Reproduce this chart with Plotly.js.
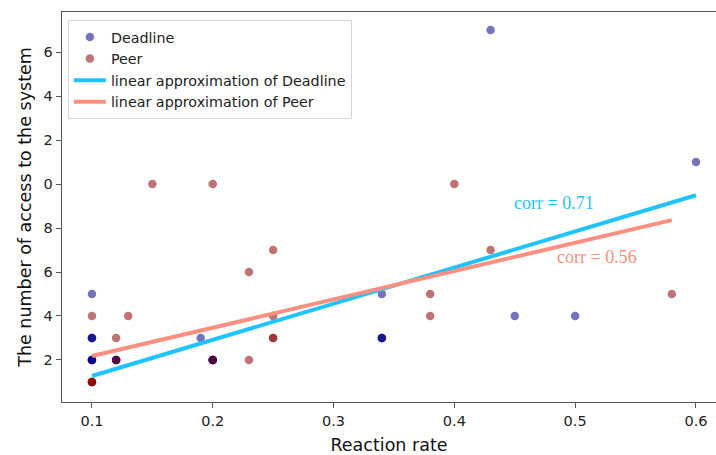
<!DOCTYPE html>
<html>
<head>
<meta charset="utf-8">
<script src="https://cdn.plot.ly/plotly-3.0.1.min.js"></script>
<style>html,body{margin:0;padding:0;background:#fff;}#chart{width:716px;height:455px;}</style>
</head>
<body>
<div id="chart"></div>
<script>
// Deadline group (duplicates reflect overlapping, darker points)
const deadlineX = [0.1, 0.1,0.1,0.1, 0.1,0.1,0.1,0.1, 0.12,0.12,0.12, 0.19, 0.2,0.2,0.2,0.2, 0.34, 0.34,0.34,0.34, 0.43, 0.45, 0.5, 0.6];
const deadlineY = [5, 3,3,3, 2,2,2,2, 2,2,2, 3, 2,2,2,2, 5, 3,3,3, 17, 4, 4, 11];
// Peer group
const peerX = [0.1, 0.1,0.1,0.1,0.1, 0.12, 0.12, 0.13, 0.15, 0.2, 0.2, 0.23, 0.23, 0.25, 0.25, 0.25,0.25, 0.38, 0.38, 0.4, 0.43, 0.58];
const peerY = [4, 1,1,1,1, 3, 2, 4, 10, 10, 2, 6, 2, 7, 4, 3,3, 5, 4, 10, 7, 5];
// Linear approximations (end points)
const fitDeadlineX = [0.1, 0.6];
const fitDeadlineY = [1.27, 9.49];
const fitPeerX = [0.1, 0.58];
const fitPeerY = [2.18, 8.36];
const corrLabels = ['corr = 0.71', 'corr = 0.56'];
const corrX = [0.4474, 0.4833];
const corrY = [9.14, 6.68];
const yTickVals = [2, 4, 6, 8, 10, 12, 14, 16];
const yTickText = ['2', '4', '6', '8', '0', '2', '4', '6'];
const xTickVals = [0.1, 0.2, 0.3, 0.4, 0.5, 0.6];
const xTickText = ['0.1', '0.2', '0.3', '0.4', '0.5', '0.6'];

const blue = '#00008b', red = '#8b0000';
const lineBlue = '#1fc3ff', lineRed = '#fb8f80';

const traces = [
  {x: deadlineX, y: deadlineY, mode: 'markers', type: 'scatter', name: 'Deadline',
   marker: {color: blue, opacity: 0.55, size: 8.5}},
  {x: peerX, y: peerY, mode: 'markers', type: 'scatter', name: 'Peer',
   marker: {color: red, opacity: 0.55, size: 8.5}},
  {x: fitDeadlineX, y: fitDeadlineY, mode: 'lines', type: 'scatter', name: 'linear approximation of Deadline',
   line: {color: lineBlue, width: 4}},
  {x: fitPeerX, y: fitPeerY, mode: 'lines', type: 'scatter', name: 'linear approximation of Peer',
   line: {color: lineRed, width: 4}}
];

const axisCommon = {
  showgrid: false, zeroline: false, showline: true, mirror: true,
  linecolor: '#555', linewidth: 1.3, ticks: 'outside', ticklen: 5, tickcolor: '#555',
  tickfont: {family: 'DejaVu Sans', size: 14.5, color: '#222'}
};

const layout = {
  width: 716, height: 455,
  margin: {l: 62, r: 0, t: 12, b: 53},
  paper_bgcolor: '#fff', plot_bgcolor: '#fff',
  showlegend: true,
  legend: {x: 0.009, y: 0.979, xanchor: 'left', yanchor: 'top',
    bgcolor: 'rgba(255,255,255,0.9)', bordercolor: '#d5d5d5', borderwidth: 1,
    font: {family: 'DejaVu Sans', size: 14.3, color: '#222'}, tracegroupgap: 0,
    itemwidth: 32},
  xaxis: Object.assign({}, axisCommon, {
    range: [0.0752, 0.6166], tickvals: xTickVals, ticktext: xTickText,
    title: {text: 'Reaction rate', font: {family: 'DejaVu Sans', size: 17.5, color: '#111'}, standoff: 12}
  }),
  yaxis: Object.assign({}, axisCommon, {
    range: [0.09, 17.82], tickvals: yTickVals, ticktext: yTickText,
    title: {text: 'The number of access to the system', font: {family: 'DejaVu Sans', size: 17.5, color: '#111'}, standoff: 7}
  }),
  annotations: [
    {x: corrX[0], y: corrY[0], text: corrLabels[0], showarrow: false, xanchor: 'left', yanchor: 'middle',
     font: {family: 'Liberation Serif', size: 18, color: lineBlue}},
    {x: corrX[1], y: corrY[1], text: corrLabels[1], showarrow: false, xanchor: 'left', yanchor: 'middle',
     font: {family: 'Liberation Serif', size: 18, color: lineRed}}
  ]
};

Plotly.newPlot('chart', traces, layout, {displayModeBar: false, staticPlot: true});
</script>
</body>
</html>
